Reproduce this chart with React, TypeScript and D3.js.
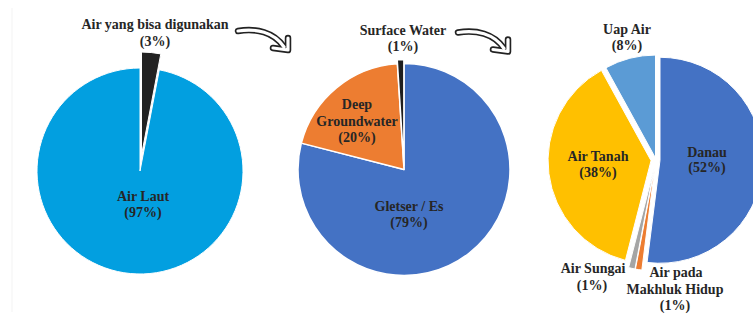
import React from "react";
import * as d3 from "d3";

// ---- data ----
const pie1Labels = ["Air yang bisa digunakan", "Air Laut"];
const pie1Values = [3, 97];
const pie2Labels = ["Gletser / Es", "Deep Groundwater", "Surface Water"];
const pie2Values = [79, 20, 1];
const pie3Labels = ["Danau", "Air pada Makhluk Hidup", "Air Sungai", "Air Tanah", "Uap Air"];
const pie3Values = [52, 1, 1, 38, 8];

// ---- styles ----
const pie1Colors = ["#222222", "#029fe0"];
const pie2Colors = ["#4472c4", "#ed7d31", "#1e1e1e"];
const pie3Colors = ["#4472c4", "#ed7d31", "#a5a5a5", "#ffc000", "#5b9bd5"];
const pie1Explode = [16, 0];
const pie2Explode = [0, 0, 4];
const pie3Explode = [4, 8, 8, 5, 2];

const FONT = "'Liberation Serif', 'Times New Roman', serif";
const TXT = "#262626";

type LabelLine = { text: string; x: number; y: number };

function Pie({ values, colors, explode, cx, cy, r, stroke }: {
  values: number[]; colors: string[]; explode: number[]; cx: number; cy: number; r: number; stroke: number;
}) {
  const arcs = d3.pie<number>().sort(null).value((d) => d)(values);
  const arc = d3.arc<d3.PieArcDatum<number>>().innerRadius(0).outerRadius(r);
  return (
    <g transform={`translate(${cx},${cy})`}>
      {arcs.map((a, i) => {
        const mid = (a.startAngle + a.endAngle) / 2;
        const dx = Math.sin(mid) * explode[i];
        const dy = -Math.cos(mid) * explode[i];
        return (
          <path key={i} d={arc(a) || ""} transform={`translate(${dx},${dy})`}
            fill={colors[i]} stroke="#ffffff" strokeWidth={stroke} strokeLinejoin="round" />
        );
      })}
    </g>
  );
}

function Labels({ lines }: { lines: LabelLine[] }) {
  return (
    <g fontFamily={FONT} fontWeight="bold" fontSize={14} fill={TXT} textAnchor="middle">
      {lines.map((l, i) => (
        <text key={i} x={l.x} y={l.y}>{l.text}</text>
      ))}
    </g>
  );
}

function Arrow({ x, y }: { x: number; y: number }) {
  const shaft = "M 2 1 C 20 -2, 38 2, 48 17";
  const head = "M 37 18 L 52 20 L 52 8";
  return (
    <g transform={`translate(${x},${y})`} fill="none" strokeLinecap="round" strokeLinejoin="round">
      <path d={shaft} stroke="#222" strokeWidth={6.5} />
      <path d={head} stroke="#222" strokeWidth={6.5} />
      <path d={shaft} stroke="#fff" strokeWidth={3.2} />
      <path d={head} stroke="#fff" strokeWidth={3.2} />
    </g>
  );
}

export default function App() {
  const pct = (v: number) => `(${v}%)`;
  return (
    <div style={{ position: "absolute", left: 0, top: 0 }}>
      <svg width={753} height={318} style={{ display: "block", background: "#fff" }}>
        <line x1={12} y1={8} x2={12} y2={312} stroke="#f3f3f3" strokeWidth={1} />
        <Pie values={pie1Values} colors={pie1Colors} explode={pie1Explode} cx={140} cy={171} r={103} stroke={1} />
        <Pie values={pie2Values} colors={pie2Colors} explode={pie2Explode} cx={404} cy={169.5} r={106} stroke={1.5} />
        <Pie values={pie3Values} colors={pie3Colors} explode={pie3Explode} cx={656} cy={160} r={103} stroke={1} />
        <Arrow x={236} y={30} />
        <Arrow x={456} y={31.5} />
        <Labels lines={[
          { text: pie1Labels[0], x: 155, y: 29 },
          { text: pct(pie1Values[0]), x: 155, y: 46 },
          { text: pie1Labels[1], x: 143, y: 201 },
          { text: pct(pie1Values[1]), x: 143, y: 217 },
          { text: pie2Labels[2], x: 403, y: 35 },
          { text: pct(pie2Values[2]), x: 403, y: 51 },
          { text: "Deep", x: 357, y: 109 },
          { text: "Groundwater", x: 357, y: 125.5 },
          { text: pct(pie2Values[1]), x: 357, y: 141.5 },
          { text: pie2Labels[0], x: 409, y: 211 },
          { text: pct(pie2Values[0]), x: 409, y: 227 },
          { text: pie3Labels[4], x: 627, y: 34 },
          { text: pct(pie3Values[4]), x: 627, y: 50 },
          { text: pie3Labels[0], x: 707, y: 157 },
          { text: pct(pie3Values[0]), x: 707, y: 172 },
          { text: pie3Labels[3], x: 598, y: 161 },
          { text: pct(pie3Values[3]), x: 598, y: 177 },
          { text: pie3Labels[2], x: 593, y: 273 },
          { text: pct(pie3Values[2]), x: 592, y: 290 },
          { text: "Air pada", x: 676, y: 277 },
          { text: "Makhluk Hidup", x: 675, y: 294 },
          { text: pct(pie3Values[1]), x: 675, y: 310 },
        ]} />
      </svg>
    </div>
  );
}
